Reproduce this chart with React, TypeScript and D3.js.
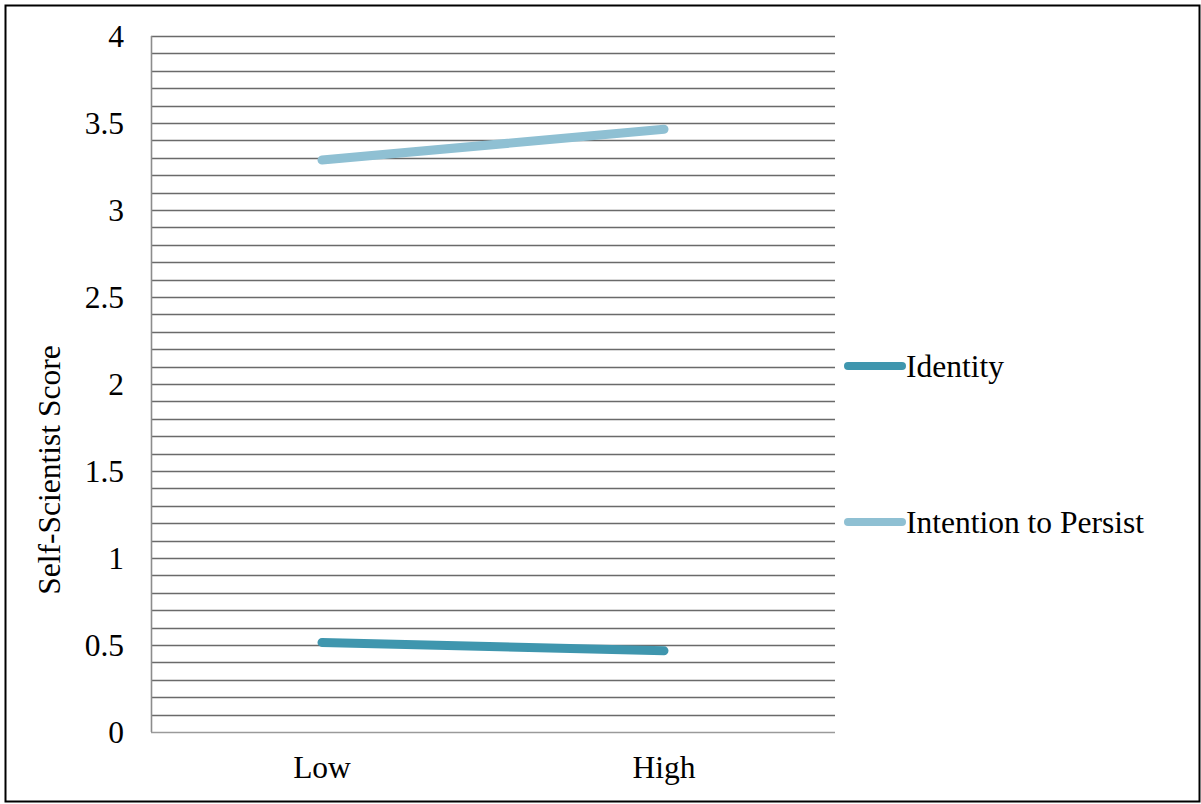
import React, { useEffect, useRef } from 'react'
import * as d3 from 'd3'

const categories = ['Low', 'High']
const identity = [0.515, 0.467]
const persist = [3.287, 3.464]
const seriesNames = ['Identity', 'Intention to Persist']
const seriesColors = ['#3f96ae', '#8fc0d3']
const yTicks = [0, 0.5, 1, 1.5, 2, 2.5, 3, 3.5, 4]

const W = 1201
const H = 804
const font = '"Liberation Serif", "Times New Roman", serif'
const fs = '31.5px'

const App = () => {
  const ref = useRef<SVGSVGElement>(null)

  useEffect(() => {
    const svg = d3.select(ref.current)
    svg.selectAll('*').remove()

    const x = d3.scaleBand().domain(categories).range([151, 835])
    const y = d3.scaleLinear().domain([0, 4]).range([732, 36])

    // outer frame
    svg.append('rect')
      .attr('x', 5.5).attr('y', 5.5)
      .attr('width', 1194).attr('height', 796)
      .attr('fill', 'white').attr('stroke', 'black').attr('stroke-width', 2)

    // gridlines every 0.1
    const grid = d3.range(1, 41).map(i => i / 10)
    svg.append('g')
      .selectAll('line')
      .data(grid)
      .enter()
      .append('line')
      .attr('x1', 151).attr('x2', 835)
      .attr('y1', d => Math.round(y(d)) + 0.5)
      .attr('y2', d => Math.round(y(d)) + 0.5)
      .attr('stroke', '#6a6a6a')
      .attr('stroke-width', 1.6)

    // axes lines
    svg.append('line')
      .attr('x1', 151.5).attr('x2', 151.5).attr('y1', 36).attr('y2', 732)
      .attr('stroke', '#8c8c8c').attr('stroke-width', 1.6)
    svg.append('line')
      .attr('x1', 151).attr('x2', 835).attr('y1', 732.5).attr('y2', 732.5)
      .attr('stroke', '#9a9a9a').attr('stroke-width', 1.6)

    // y tick labels
    svg.append('g')
      .selectAll('text')
      .data(yTicks)
      .enter()
      .append('text')
      .attr('x', 124)
      .attr('y', d => y(d) + 11)
      .attr('text-anchor', 'end')
      .style('font-family', font)
      .style('font-size', fs)
      .text(d => String(d))

    // x labels
    svg.append('g')
      .selectAll('text')
      .data(categories)
      .enter()
      .append('text')
      .attr('x', d => (x(d) as number) + x.bandwidth() / 2)
      .attr('y', 778)
      .attr('text-anchor', 'middle')
      .style('font-family', font)
      .style('font-size', fs)
      .text(d => d)

    // y title
    svg.append('text')
      .attr('transform', 'translate(60, 470) rotate(-90)')
      .attr('text-anchor', 'middle')
      .style('font-family', font)
      .style('font-size', fs)
      .text('Self-Scientist Score')

    const line = d3.line<number>()
      .x((d, i) => (x(categories[i]) as number) + x.bandwidth() / 2)
      .y(d => y(d))

    const series = [identity, persist]
    svg.append('g')
      .selectAll('path')
      .data(series)
      .enter()
      .append('path')
      .attr('d', d => line(d))
      .attr('fill', 'none')
      .attr('stroke', (d, i) => seriesColors[i])
      .attr('stroke-width', 9)
      .attr('stroke-linecap', 'round')

    // legend
    const legendY = [366, 522]
    const lg = svg.append('g')
      .selectAll('g')
      .data(seriesNames)
      .enter()
      .append('g')
      .attr('transform', (d, i) => `translate(0, ${legendY[i]})`)
    lg.append('line')
      .attr('x1', 848).attr('x2', 902).attr('y1', 0).attr('y2', 0)
      .attr('stroke', (d, i) => seriesColors[i])
      .attr('stroke-width', 8)
      .attr('stroke-linecap', 'round')
    lg.append('text')
      .attr('x', 906)
      .attr('y', 11)
      .style('font-family', font)
      .style('font-size', fs)
      .text(d => d)
  }, [])

  return (
    <svg ref={ref} width={W} height={H} style={{ position: 'absolute', left: 0, top: 0 }} />
  )
}

export default App
